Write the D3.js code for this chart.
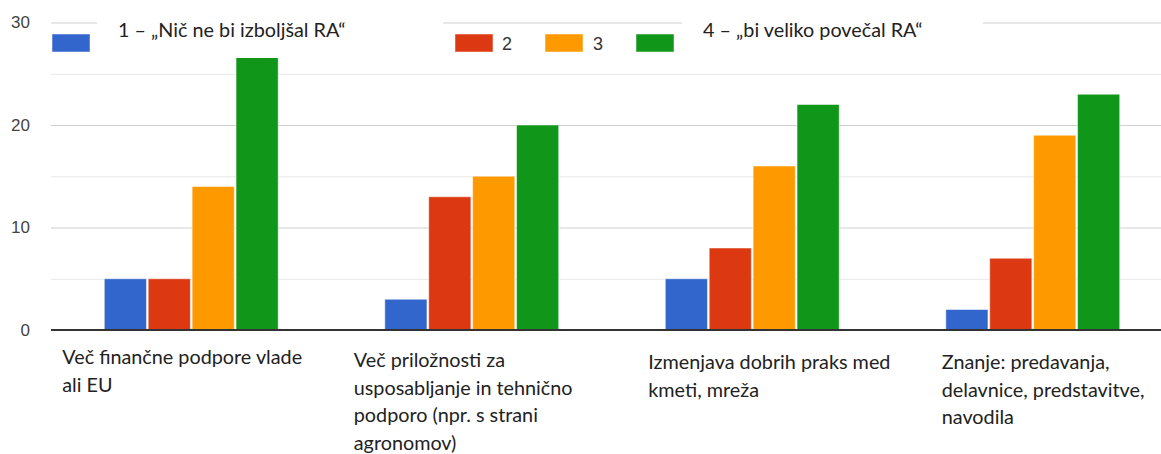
<!DOCTYPE html>
<html>
<head>
<meta charset="utf-8">
<script src="https://d3js.org/d3.v7.min.js"></script>
<title>RA</title>
<style>
  body { margin: 0; background: #fff; }
  .lbl { font-family: Lato, "Open Sans", sans-serif; font-size: 19.8px; fill: #222; }
  .tick text { font-family: "Liberation Sans", Arial, sans-serif; font-size: 17px; fill: #444; }
</style>
</head>
<body>
<script>
// data
var categories = [
  ["Več finančne podpore vlade", "ali EU"],
  ["Več priložnosti za", "usposabljanje in tehnično", "podporo (npr. s strani", "agronomov)"],
  ["Izmenjava dobrih praks med", "kmeti, mreža"],
  ["Znanje: predavanja,", "delavnice, predstavitve,", "navodila"]
];
var series = ["1 – „Nič ne bi izboljšal RA“", "2", "3", "4 – „bi veliko povečal RA“"];
var s1 = [5, 3, 5, 2],
    s2 = [5, 13, 8, 7],
    s3 = [14, 15, 16, 19],
    s4 = [27, 20, 22, 23];
var yTicks = [0, 10, 20, 30],
    yMinor = [5, 15, 25];

var colours = ["#3366cc", "#dc3912", "#ff9900", "#109618"];
var W = 1161, H = 454,
    left = 51;

// label layout (the category labels sit a bit irregularly under each group)
var labelShift = [-42, -31, -17, -4],
    labelBase = [364, 367, 369, 369],
    lineH = 27.5;
var legendSw = [52, 455, 545, 636],
    legendTx = [118, 502, 593, 703];

var values = [s1, s2, s3, s4];

var svg = d3.select("body").append("svg")
  .attr("width", W)
  .attr("height", H);

var x0 = d3.scaleBand().domain(d3.range(categories.length))
  .range([left, 1173]).paddingInner(0.38).paddingOuter(0.19);
var x1 = d3.scaleBand().domain(d3.range(series.length))
  .range([0, x0.bandwidth()]).paddingInner(0.04);
var y = d3.scaleLinear().domain([0, 30]).range([330, 22.5]);

// minor grid
svg.append("g")
  .attr("transform", "translate(" + left + ",0)")
  .call(d3.axisLeft(y).tickValues(yMinor).tickSize(-(W - left)).tickFormat(""))
  .call(function(g){ g.select(".domain").remove(); })
  .selectAll("line").attr("stroke", "#e8e8e8");

// major grid + labels
svg.append("g")
  .attr("transform", "translate(" + left + ",0)")
  .call(d3.axisLeft(y).tickValues(yTicks).tickSize(-(W - left)).tickPadding(21))
  .call(function(g){ g.select(".domain").remove(); })
  .selectAll("line").attr("stroke", "#d0d0d0");

// bars
svg.append("g").selectAll("g")
  .data(categories)
  .enter().append("g")
    .attr("transform", function(d, i){ return "translate(" + x0(i) + ",0)"; })
    .selectAll("rect")
    .data(function(d, i){ return values.map(function(v, k){ return {k: k, v: v[i]}; }); })
    .enter().append("rect")
      .attr("x", function(d){ return x1(d.k); })
      .attr("y", function(d){ return y(d.v); })
      .attr("width", x1.bandwidth())
      .attr("height", function(d){ return y(0) - y(d.v); })
      .attr("fill", function(d){ return colours[d.k]; })
      .attr("stroke", "#fff")
      .attr("stroke-opacity", 0.5)
      .attr("stroke-width", 1);

// baseline
svg.append("line")
  .attr("x1", left).attr("x2", W)
  .attr("y1", y(0)).attr("y2", y(0))
  .attr("stroke", "#333").attr("stroke-width", 2);

// pasted legend text boxes cover the top of the plot
svg.append("rect").attr("x", 97).attr("y", 0).attr("width", 346).attr("height", 58).attr("fill", "#fff");
svg.append("rect").attr("x", 682).attr("y", 0).attr("width", 301).attr("height", 58).attr("fill", "#fff");

// legend
var leg = svg.append("g").selectAll("g")
  .data(series)
  .enter().append("g");
leg.append("rect")
  .attr("x", function(d, i){ return legendSw[i]; })
  .attr("y", 34)
  .attr("width", 38)
  .attr("height", 18)
  .attr("fill", function(d, i){ return colours[i]; })
  .attr("stroke", "#fff").attr("stroke-opacity", 0.5);
leg.append("text")
  .attr("x", function(d, i){ return legendTx[i]; })
  .attr("y", function(d){ return d.length > 2 ? 37 : 50; })
  .attr("class", function(d){ return d.length > 2 ? "lbl" : null; })
  .style("font-family", function(d){ return d.length > 2 ? null : "'Liberation Sans', Arial, sans-serif"; })
  .style("font-size", function(d){ return d.length > 2 ? null : "18px"; })
  .style("fill", function(d){ return d.length > 2 ? null : "#333"; })
  .text(function(d){ return d; });

// category labels
svg.append("g").selectAll("text")
  .data(categories)
  .enter().append("text")
    .attr("class", "lbl")
    .attr("y", function(d, i){ return labelBase[i]; })
    .each(function(d, i){
      var t = d3.select(this), xx = x0(i) + labelShift[i];
      d.forEach(function(line, j){
        t.append("tspan").attr("x", xx).attr("dy", j ? lineH : 0).text(line);
      });
    });
</script>
</body>
</html>
